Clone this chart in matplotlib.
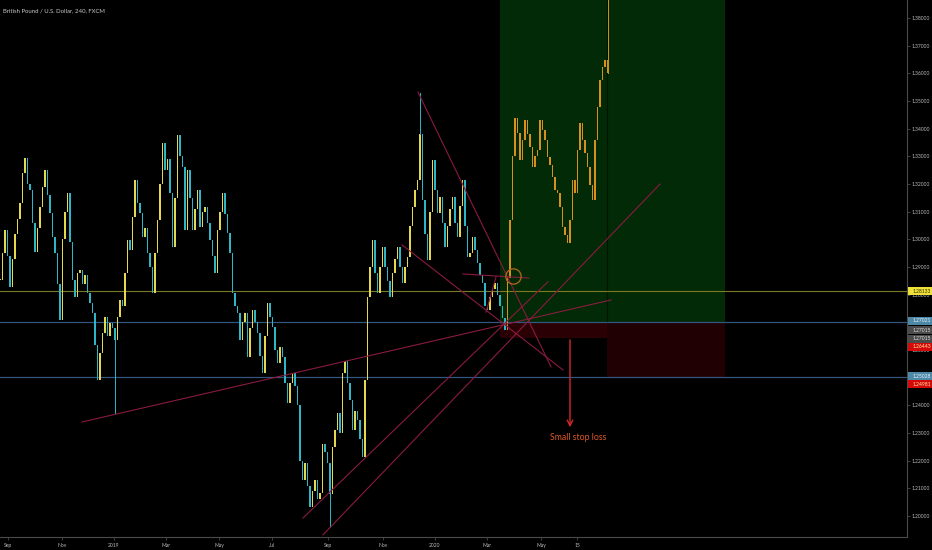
import matplotlib.pyplot as plt
import matplotlib.transforms as mtransforms
from matplotlib.patches import Rectangle
import numpy as np

plt.rcParams['font.family'] = ['Lato', 'DejaVu Sans']

title = "British Pound / U.S. Dollar, 240, FXCM"

# GBPUSD 240 closes, thinned out (Sep 2018 .. Mar 2020)
closes = [
    1.2853, 1.2950, 1.3034, 1.2940, 1.2828, 1.2930, 1.3020, 1.3075, 1.3130, 1.3240,
    1.3294, 1.3200, 1.3178, 1.3060, 1.2955, 1.3040, 1.3117, 1.3190, 1.3251, 1.3160,
    1.3095, 1.3010, 1.2951, 1.2840, 1.2709, 1.3000, 1.3100, 1.3168, 1.2990, 1.2853,
    1.2792, 1.2880, 1.2889, 1.2840, 1.2870, 1.2806, 1.2770, 1.2734, 1.2620, 1.2492,
    1.2590, 1.2662, 1.2720, 1.2650, 1.2698, 1.2680, 1.2636, 1.2720, 1.2781, 1.2760,
    1.2878, 1.2998, 1.2960, 1.3080, 1.3215, 1.3130, 1.3095, 1.3010, 1.3040, 1.2951,
    1.2900, 1.2806, 1.2950, 1.3070, 1.3200, 1.3348, 1.3250, 1.3290, 1.3168, 1.2972,
    1.3150, 1.3377, 1.3300, 1.3262, 1.3034, 1.3251, 1.3150, 1.3034, 1.3110, 1.3178,
    1.3045, 1.3100, 1.3117, 1.3060, 1.2998, 1.2940, 1.2878, 1.3034, 1.3100, 1.3168,
    1.3090, 1.3023, 1.2951, 1.2806, 1.2760, 1.2734, 1.2636, 1.2700, 1.2734, 1.2575,
    1.2680, 1.2745, 1.2700, 1.2662, 1.2580, 1.2517, 1.2650, 1.2770, 1.2720, 1.2683,
    1.2600, 1.2553, 1.2610, 1.2575, 1.2480, 1.2409, 1.2480, 1.2517, 1.2470, 1.2400,
    1.2200, 1.2130, 1.2192, 1.2110, 1.2033, 1.2090, 1.2130, 1.2060, 1.2083, 1.2260,
    1.2230, 1.2192, 1.2080, 1.2250, 1.2310, 1.2372, 1.2300, 1.2517, 1.2560, 1.2480,
    1.2419, 1.2311, 1.2380, 1.2347, 1.2280, 1.2213, 1.2492, 1.2792, 1.2900, 1.2998,
    1.2878, 1.2806, 1.2900, 1.2972, 1.2900, 1.2850, 1.2792, 1.2880, 1.2930, 1.2972,
    1.2900, 1.2842, 1.2900, 1.2936, 1.3050, 1.3117, 1.3180, 1.3215, 1.3380, 1.3142,
    1.3020, 1.2925, 1.3100, 1.3287, 1.3180, 1.3095, 1.3153, 1.3060, 1.2972, 1.3050,
    1.3110, 1.3153, 1.3060, 1.3009, 1.3120, 1.3215, 1.3050, 1.2936, 1.2951, 1.3009,
    1.2960, 1.2915, 1.2870, 1.2842, 1.2760, 1.2745, 1.2790, 1.2820, 1.2842, 1.2800,
    1.2760, 1.2715, 1.2672,
]

# bars pattern pasted after the low (projection)
projection = [
    1.2860, 1.3070, 1.3300, 1.3440, 1.3384, 1.3287, 1.3359, 1.3431, 1.3380, 1.3334,
    1.3262, 1.3300, 1.3323, 1.3431, 1.3395, 1.3359, 1.3298, 1.3269, 1.3225, 1.3180,
    1.3168, 1.3117, 1.3045, 1.3016, 1.2987, 1.3070, 1.3215, 1.3168, 1.3323, 1.3421,
    1.3359, 1.3312, 1.3262, 1.3196, 1.3142, 1.3359, 1.3478, 1.3576, 1.3623, 1.3648,
    1.3600,
]

# long wicks: bar index and extreme price
wick_bars = [46, 132, 168, 243]
wick_prices = [1.2372, 1.1960, 1.3529, 1.3870]

# horizontal levels
level_yellow = 1.28133
level_entry = 1.27021
level_stop = 1.26443
level_stop2 = 1.25028

# position tools: start bar, split bar, end bar
pos_start, pos_split, pos_end = 200, 242.8, 290

# trend lines drawn on the chart (bar, price) -> (bar, price)
trend_lines = [
    ((32.8, 1.2340), (244.4, 1.2781)),
    ((167.2, 1.3532), (220.4, 1.2539)),
    ((160.8, 1.2980), (225.2, 1.2528)),
    ((121.2, 1.1993), (219.2, 1.2847)),
    ((129.2, 1.1932), (264.0, 1.3200)),
    ((185.2, 1.2875), (211.6, 1.2860)),
    ((194.4, 1.2737), (198.4, 1.2864)),
]

circle_bar, circle_price = 205.2, 1.2868
arrow_bar, arrow_top, arrow_bottom = 228, 1.2647, 1.2311
note = "Small stop loss"
note_bar, note_price = 231.2, 1.2284

date_pos = [3.2, 24.8, 45.6, 66.4, 87.6, 108.8, 131.2, 153.2, 174, 194.8, 216.4, 230.8]
date_labels = ['Sep', 'Nov', '2019', 'Mar', 'May', 'Jul', 'Sep', 'Nov', '2020', 'Mar', 'May', '15']

price_ticks = np.round(np.arange(1.20, 1.3801, 0.01), 2)
hidden_ticks = [1.25, 1.27]   # covered by the price badges

badge_labels = ['1.28133', '1.27021', '1.27015', '1.27015', '1.26443', '1.25028', '1.24981']
badge_levels = [1.28133, 1.2705, 1.2672, 1.2640, 1.2611, 1.2506, 1.2477]
badge_colors = ['#efe13a', '#4d88a6', '#4a4a4a', '#4a4a4a', '#d40a0a', '#4d88a6', '#d40a0a']
badge_text = ['#333300', '#e8f4ff', '#dddddd', '#dddddd', '#ffe9a0', '#e8f4ff', '#ffe9a0']

UP = '#e6d84c'
DOWN = '#2cb6c8'
PROJ = '#d8901c'
LINE = '#8a1b40'

fig = plt.figure(figsize=(9.32, 5.5), dpi=100, facecolor='black')
ax = fig.add_axes([0, 13 / 550, 907 / 932, 537 / 550])
ax.set_facecolor('black')
ax.set_xlim(0, 362.8)
ax.set_ylim(1.19243, 1.38651)

# position tool boxes
ax.add_patch(Rectangle((pos_start, level_entry), pos_end - pos_start, 0.2,
                       fc='#022a06', ec='none', zorder=0))
ax.add_patch(Rectangle((pos_start, level_stop), pos_split - pos_start, level_entry - level_stop,
                       fc='#2a0005', ec='none', zorder=0))
ax.add_patch(Rectangle((pos_split, level_stop2), pos_end - pos_split, level_entry - level_stop2,
                       fc='#210004', ec='none', zorder=0))
ax.plot([pos_split, pos_split], [level_entry, 1.3865], color='#001500', lw=0.8, zorder=0.5)

# horizontal levels
ax.axhline(level_yellow, color='#7d7a25', lw=0.8, zorder=1)
ax.axhline(level_entry, color='#33567e', lw=0.9, zorder=1)
ax.axhline(level_stop2, color='#33567e', lw=0.9, zorder=1)

# candles
def draw_candles(values, first_open, start, up, down):
    opens = [first_open] + values[:-1]
    xs = np.arange(start, start + len(values))
    for x, o, c in zip(xs, opens, values):
        col = up if c >= o else down
        ax.bar(x, max(abs(c - o), 0.0004), bottom=min(o, c), width=0.6,
               color=col, lw=0, zorder=2)

draw_candles(closes, closes[0], 0, UP, DOWN)
draw_candles(projection, closes[-1], len(closes), PROJ, PROJ)

series = closes + projection
for b, p in zip(wick_bars, wick_prices):
    col = PROJ if b >= len(closes) else DOWN
    ax.plot([b, b], [series[b], p], color=col, lw=0.7, zorder=2)

# drawings
for (x0, y0), (x1, y1) in trend_lines:
    ax.plot([x0, x1], [y0, y1], color=LINE, lw=0.8, zorder=3)
ax.plot(circle_bar, circle_price, marker='o', ms=11, mfc='none', mec='#b8661c', mew=0.9, zorder=3)
ax.annotate('', xy=(arrow_bar, arrow_bottom), xytext=(arrow_bar, arrow_top),
            arrowprops=dict(arrowstyle='->', color='#d42a2a', lw=1.0), zorder=3)
ax.text(note_bar, note_price, note, color='#e0582a', fontsize=6.3, ha='center', va='center', zorder=3)

ax.text(0.003, 0.985, title, transform=ax.transAxes, color='#c8c8c8', fontsize=4.3,
        ha='left', va='top')

# axes
for s in ['top', 'left']:
    ax.spines[s].set_visible(False)
for s in ['right', 'bottom']:
    ax.spines[s].set_color('#4a4a4a')
    ax.spines[s].set_linewidth(0.8)

ax.yaxis.tick_right()
ax.set_yticks(price_ticks)
ax.set_yticklabels(['' if p in hidden_ticks else f'{p:.5f}' for p in price_ticks])
ax.set_xticks(date_pos)
ax.set_xticklabels(date_labels)
ax.tick_params(axis='both', colors='#4a4a4a', labelcolor='#bdbdbd', labelsize=3.6, length=2, width=0.6)
ax.tick_params(axis='y', pad=1.5)
ax.tick_params(axis='x', pad=2.5)

# price badges on the scale
trans = mtransforms.blended_transform_factory(ax.transAxes, ax.transData)
for lab, lvl, bc, tc in zip(badge_labels, badge_levels, badge_colors, badge_text):
    ax.add_patch(Rectangle((1.001, lvl - 0.00148), 0.028, 0.00296, transform=trans,
                           fc=bc, ec='none', clip_on=False, zorder=10))
    ax.text(1.006, lvl, lab, transform=trans, color=tc, fontsize=3.6,
            ha='left', va='center', clip_on=False, zorder=11)

fig.savefig('out.png', dpi=100, facecolor='black')
